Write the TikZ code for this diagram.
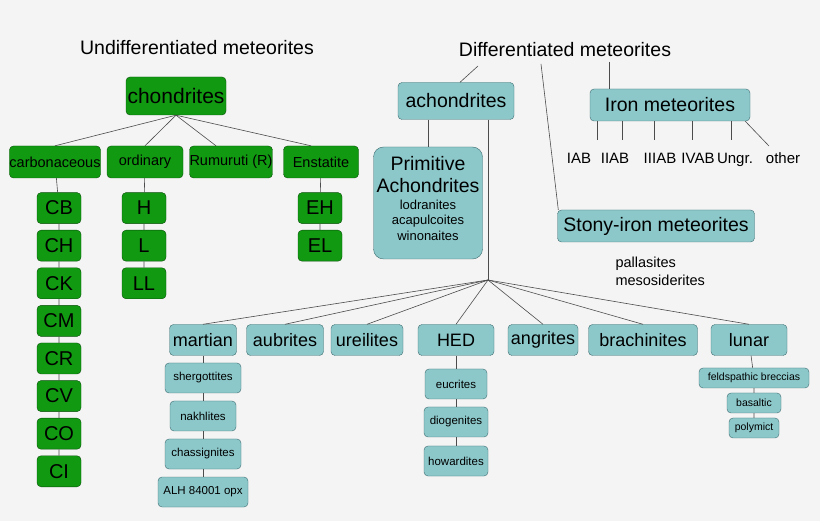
\documentclass[tikz,border=0pt]{standalone}
\usepackage{fontspec}
\setmainfont{Liberation Sans}
\definecolor{chgreen}{HTML}{119A11}
\definecolor{chdark}{HTML}{0B4F0B}
\definecolor{acteal}{HTML}{8CC8CA}
\definecolor{acdark}{HTML}{3E6C70}
\definecolor{bggray}{HTML}{F4F4F4}
\tikzset{
  green box/.style={draw=chdark, fill=chgreen, rounded corners=4pt, inner sep=0pt, font=\fontsize{20}{20}\selectfont},
  teal box/.style={draw=acdark, fill=acteal, rounded corners=4pt, inner sep=0pt},
  link/.style={draw=black!70, line width=0.6pt}
}
\begin{document}
\begin{tikzpicture}[x=1pt, y=-1pt]
    \fill[bggray] (0,0) rectangle (820,521);
    \useasboundingbox (0,0) rectangle (820,521);

    \node[font=\fontsize{19.5}{19.5}\selectfont] (undiff) at (197,48) {Undifferentiated meteorites};
    \node[font=\fontsize{19.5}{19.5}\selectfont] (diff) at (565,50) {Differentiated meteorites};

    % chondrites
    \node[green box, minimum width=100, minimum height=38, font=\fontsize{21}{21}\selectfont] (chond) at (176,96) {chondrites};
    \node[green box, minimum width=89, minimum height=32, font=\fontsize{14.5}{14.5}\selectfont] (carb) at (55,162) {carbonaceous};
    \node[green box, minimum width=76, minimum height=32, font=\fontsize{14.5}{14.5}\selectfont] (ord) at (145,162) {ordinary};
    \node[green box, minimum width=82, minimum height=32, font=\fontsize{14.5}{14.5}\selectfont] (rum) at (231,162) {Rumuruti (R)};
    \node[green box, minimum width=75, minimum height=32, font=\fontsize{14.5}{14.5}\selectfont] (enst) at (321,162) {Enstatite};
    \draw[link] (chond.south) -- (carb.north);
    \draw[link] (chond.south) -- (ord.north);
    \draw[link] (chond.south) -- ([xshift=-15pt]rum.north);
    \draw[link] (chond.south) -- ([xshift=-10pt]enst.north);

    \foreach \name [count=\i] in {CB,CH,CK,CM,CR,CV,CO,CI}
        \node[green box, minimum width=44, minimum height=31] (\name) at (59,170.5+37.6*\i) {\name};
    \draw[link] (carb) -- (CB) -- (CH) -- (CK) -- (CM) -- (CR) -- (CV) -- (CO) -- (CI);
    \foreach \name [count=\i] in {H,L,LL}
        \node[green box, minimum width=44, minimum height=31] (\name) at (144,170.5+37.6*\i) {\name};
    \draw[link] (ord) -- (H) -- (L) -- (LL);
    \foreach \name [count=\i] in {EH,EL}
        \node[green box, minimum width=44, minimum height=31] (\name) at (320,170.5+37.6*\i) {\name};
    \draw[link] (enst) -- (EH) -- (EL);

    % achondrites
    \node[teal box, minimum width=116, minimum height=37, font=\fontsize{19.5}{19.5}\selectfont] (achon) at (456,101) {achondrites};
    \node[teal box, minimum width=109, minimum height=112, rounded corners=10pt] (prim) at (428,203) {};
    \node[align=center, font=\fontsize{19.5}{22}\selectfont, anchor=north] (primtitle) at (428,153) {Primitive\\Achondrites};
    \node[align=center, font=\fontsize{13}{15.5}\selectfont, anchor=north] (primlist) at (primtitle.south) {lodranites\\acapulcoites\\winonaites};
    \coordinate (dtip) at (478,66);
    \draw[link] (dtip) -- ([xshift=4pt]achon.north);
    \draw[link] (achon.south -| prim.north) -- (prim.north);
    \coordinate (hub) at (488,280);
    \draw[link] (achon.south -| hub) -- (hub);

    \foreach \name/\txt/\x/\w in {mart/martian/203/67, aub/aubrites/285/77, ure/ureilites/367/72, hed/HED/456/76,
                                  ang/angrites/543/70, bra/brachinites/643/109, lun/lunar/749/76} {
        \node[teal box, minimum width=\w, minimum height=31, font=\fontsize{18}{18}\selectfont] (\name) at (\x,340) {\txt};
        \draw[link] (hub) -- (\name.north);
    }
    \foreach \name/\txt/\y/\w in {sher/shergottites/378/76, nakh/nakhlites/416/66, chas/chassignites/454/76, alh/ALH 84001 opx/492/90}
        \node[teal box, minimum width=\w, minimum height=30, font=\fontsize{11.5}{11.5}\selectfont] (\name) at (203,\y) {\txt};
    \draw[link] (mart) -- (sher) -- (nakh) -- (chas) -- (alh);
    \foreach \name/\txt/\y/\w in {euc/eucrites/384/62, dio/diogenites/422/64, how/howardites/461/64}
        \node[teal box, minimum width=\w, minimum height=30, font=\fontsize{11.5}{11.5}\selectfont] (\name) at (456,\y) {\txt};
    \draw[link] (hed) -- (euc) -- (dio) -- (how);
    \foreach \name/\txt/\y/\w in {feld/feldspathic breccias/378/110, bas/basaltic/403/54, poly/polymict/428/50}
        \node[teal box, minimum width=\w, minimum height=20, font=\fontsize{10.5}{10.5}\selectfont] (\name) at (754,\y) {\txt};
    \draw[link] (lun) -- (feld) -- (bas) -- (poly);

    % iron and stony-iron
    \node[teal box, minimum width=160, minimum height=32, font=\fontsize{19.5}{19.5}\selectfont] (iron) at (670,105) {Iron meteorites};
    \coordinate (itop) at (609,62);
    \draw[link] (itop) -- (iron.north -| itop);
    \foreach \name/\txt/\x/\lx in {iab/IAB/597/579, iiab/IIAB/622/615, iiiab/IIIAB/654/660, ivab/IVAB/692/698, ungr/Ungr./731/735} {
        \node[anchor=base, font=\fontsize{15}{15}\selectfont] (\name) at (\lx,164) {\txt};
        \coordinate (\name t) at (\x,140);
        \draw[link] (iron.south -| \name t) -- (\name t);
    }
    \node[anchor=base, font=\fontsize{15}{15}\selectfont] (other) at (783,164) {other};
    \coordinate (ot) at (769,146);
    \draw[link] ([xshift=-5pt]iron.south east) -- (ot);
    \node[teal box, minimum width=197, minimum height=32, font=\fontsize{19.5}{19.5}\selectfont] (stony) at (656,226) {Stony-iron meteorites};
    \coordinate (stip) at (541,64);
    \draw[link] (stip) -- ([xshift=1pt]stony.north west);
    \node[anchor=west, align=left, font=\fontsize{14.5}{18}\selectfont] (pall) at (612,271) {pallasites\\mesosiderites};
\end{tikzpicture}
\end{document}
